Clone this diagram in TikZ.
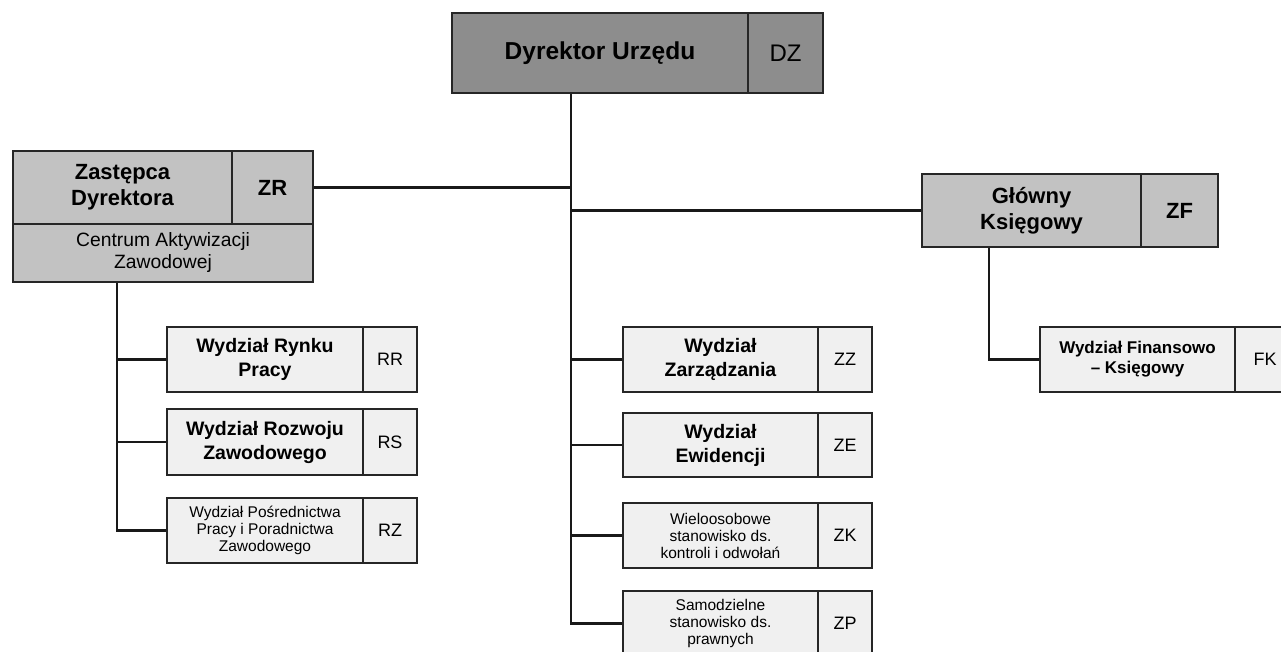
\documentclass[tikz,border=0pt]{standalone}
\usepackage{fontspec}
\setmainfont{Liberation Sans}
\definecolor{darkfill}{RGB}{141,141,141}
\definecolor{midfill}{RGB}{194,194,194}
\definecolor{lightfill}{RGB}{240,240,240}
\begin{document}
\begin{tikzpicture}[x=1pt,y=-1pt,
  box/.style={draw=black!85, line width=1.7pt, inner sep=0pt, align=center, anchor=center},
  darkbox/.style={box, fill=darkfill},
  midbox/.style={box, fill=midfill},
  lightbox/.style={box, fill=lightfill},
  conn/.style={draw=black!90, line width=2.8pt},
  bigbold/.style={font=\bfseries\fontsize{22}{26}\selectfont},
  medbold/.style={font=\bfseries\fontsize{19.5}{24}\selectfont},
  smalltxt/.style={font=\fontsize{15.5}{17}\selectfont},
  codetxt/.style={font=\fontsize{18}{20}\selectfont}
]
\useasboundingbox (0,0) rectangle (1281,652);
% helper macro for box sizes
\newcommand\bx[7]{% name, style, x1,y1,x2,y2, text
  \node[#2, minimum width={#5-#3}, minimum height={#6-#4}] (#1) at ({(#3+#5)/2},{(#4+#6)/2}) {#7};}

% top
\bx{dz}{darkbox,font=\bfseries\fontsize{24.5}{28}\selectfont}{452}{13}{748}{93}{Dyrektor Urzędu}
\bx{dzc}{darkbox,font=\fontsize{24}{28}\selectfont}{748}{13}{823}{93}{DZ}

% Zastepca
\bx{zr}{midbox,bigbold}{13}{151}{232}{224}{Zastępca\\Dyrektora}
\bx{zrc}{midbox,bigbold}{232}{151}{313}{224}{ZR}
\bx{cent}{midbox,font=\fontsize{19.3}{22}\selectfont}{13}{224}{313}{282}{Centrum Aktywizacji\\Zawodowej}

% Glowny
\bx{zf}{midbox,bigbold}{922}{174}{1141}{247}{Główny\\Księgowy}
\bx{zfc}{midbox,bigbold}{1141}{174}{1218}{247}{ZF}

% left column
\bx{rr}{lightbox,medbold}{167}{327}{363}{392}{Wydział Rynku\\Pracy}
\bx{rrc}{lightbox,codetxt}{363}{327}{417}{392}{RR}
\bx{rs}{lightbox,medbold}{167}{409}{363}{475}{Wydział Rozwoju\\Zawodowego}
\bx{rsc}{lightbox,codetxt}{363}{409}{417}{475}{RS}
\bx{rz}{lightbox,smalltxt}{167}{498}{363}{563}{Wydział Pośrednictwa\\Pracy i Poradnictwa\\Zawodowego}
\bx{rzc}{lightbox,codetxt}{363}{498}{417}{563}{RZ}

% middle column
\bx{zz}{lightbox,medbold}{623}{327}{818}{392}{Wydział\\Zarządzania}
\bx{zzc}{lightbox,codetxt}{818}{327}{872}{392}{ZZ}
\bx{ze}{lightbox,medbold}{623}{413}{818}{477}{Wydział\\Ewidencji}
\bx{zec}{lightbox,codetxt}{818}{413}{872}{477}{ZE}
\bx{zk}{lightbox,smalltxt}{623}{503}{818}{568}{Wieloosobowe\\stanowisko ds.\\kontroli i odwołań}
\bx{zkc}{lightbox,codetxt}{818}{503}{872}{568}{ZK}
\bx{zp}{lightbox,smalltxt}{623}{591}{818}{656}{Samodzielne\\stanowisko ds.\\prawnych}
\bx{zpc}{lightbox,codetxt}{818}{591}{872}{656}{ZP}

% right
\bx{fk}{lightbox,font=\bfseries\fontsize{17}{20}\selectfont}{1040}{327}{1235}{392}{Wydział Finansowo\\– Księgowy}
\bx{fkc}{lightbox,codetxt}{1235}{327}{1295}{392}{FK}

% spines
\coordinate (sp) at (571,623.5);
\coordinate (lsp) at (117,530.5);
\coordinate (fsp) at (989,359.5);

\draw[conn] (dz.south -| sp) -- (sp) -- (zp.west);
\draw[conn] (zrc.east) -- (zrc.east -| sp);
\draw[conn] (sp |- zf.west) -- (zf.west);
\draw[conn] (sp |- zz.west) -- (zz.west);
\draw[conn] (sp |- ze.west) -- (ze.west);
\draw[conn] (sp |- zk.west) -- (zk.west);

\draw[conn] (cent.south -| lsp) -- (lsp) -- (rz.west);
\draw[conn] (lsp |- rr.west) -- (rr.west);
\draw[conn] (lsp |- rs.west) -- (rs.west);

\draw[conn] (zf.south -| fsp) -- (fsp) -- (fk.west);
\end{tikzpicture}
\end{document}
